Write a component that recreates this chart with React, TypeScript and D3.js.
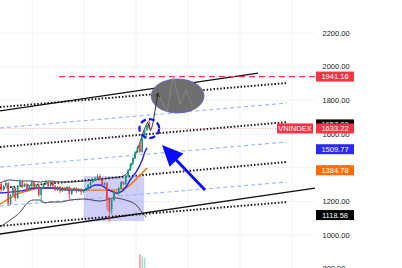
import React from 'react';
import * as d3 from 'd3';

const W = 402;
const H = 268;

// ---- candle data (VNINDEX) ----
const opens = [1303,1267,1291,1309,1184,1238,1279,1220,1291,1321,1291,1303,1267,1291,1315,1279,1297,1238,1279,1303,1315,1291,1315,1291,1267,1285,1261,1279,1267,1285,1244,1267,1279,1261,1273,1255,1267,1279,1297,1315,1327,1339,1350,1327,1297,1309,1220,1149,1208,1255,1244,1279,1315,1303,1350,1386,1422,1457,1493,1547,1493,1576,1624,1665];
const highs = [1315,1297,1321,1315,1244,1291,1285,1297,1333,1327,1309,1309,1297,1327,1321,1303,1303,1285,1309,1327,1321,1321,1321,1297,1291,1291,1285,1285,1291,1291,1273,1285,1285,1279,1279,1273,1285,1303,1321,1333,1345,1362,1362,1333,1315,1315,1226,1214,1261,1261,1285,1321,1321,1356,1392,1428,1463,1499,1529,1553,1582,1630,1665,1683];
const lows = [1255,1261,1285,1172,1178,1232,1202,1214,1285,1279,1285,1255,1261,1285,1267,1273,1226,1190,1273,1297,1285,1285,1279,1261,1261,1249,1255,1261,1261,1208,1238,1261,1249,1255,1238,1249,1261,1273,1291,1309,1321,1333,1321,1291,1291,1149,1077,1125,1202,1238,1238,1273,1297,1297,1345,1380,1416,1451,1487,1487,1487,1570,1618,1630];
const closes = [1267,1291,1309,1184,1238,1279,1220,1291,1321,1291,1303,1267,1291,1315,1279,1297,1238,1279,1303,1315,1291,1315,1291,1267,1285,1261,1279,1267,1285,1244,1267,1279,1261,1273,1255,1267,1279,1297,1315,1327,1339,1350,1327,1297,1309,1208,1137,1208,1255,1244,1279,1315,1303,1350,1386,1422,1457,1493,1523,1493,1576,1624,1653,1636];
const volumes = [2,2,2,3,3,2,3,2,2,2,2,2,2,2,2,2,3,3,2,2,2,2,2,2,2,2,2,2,2,3,2,2,2,2,2,2,2,3,3,3,3,3,3,3,3,4,5,4,3,3,3,3,3,4,4,4,4,5,5,9,8.5,8.2,5,5];

// ---- indicators: [bar index, price] ----
const bbUpper: [number, number][] = [[-0.5,1309],[3.8,1327],[8.1,1321],[12.3,1321],[16.6,1315],[20.9,1321],[25.1,1315],[29.4,1315],[35.3,1321],[40,1327],[46.4,1339],[50.6,1345],[54,1374],[55.7,1428],[57.4,1487],[59.1,1553],[60.8,1624],[62.6,1677]];
const bbLower: [number, number][] = [[-0.5,1048],[3.8,1089],[8.1,1137],[11.1,1190],[13.6,1208],[16.6,1208],[18.7,1190],[20.9,1196],[25.1,1196],[29.4,1208],[35.3,1214],[42.1,1202],[48.5,1220],[52.8,1208],[56.2,1190],[58.3,1166],[60.4,1125],[61.7,1107]];
const maFast: [number, number][] = [[-0.5,1250],[3.8,1255],[10.2,1267],[13.6,1279],[20.9,1279],[29.4,1267],[35.3,1267],[40,1297],[42.1,1297],[45.1,1273],[49.4,1250],[52.8,1279],[54.9,1327],[57.9,1386],[60,1446],[61.3,1499],[62.1,1517]];
const maSlow: [number, number][] = [[-0.5,1184],[3.8,1220],[8.1,1250],[12.3,1267],[16.6,1279],[25.1,1279],[35.3,1267],[42.1,1267],[47.7,1267],[53.6,1285],[57.9,1339],[60.4,1374],[62.1,1398]];

// ---- axes ----
const priceTicks = [800, 1000, 1200, 1400, 1600, 1800, 2000, 2200];
const timeGrid = [13.2, 35.3, 57.4, 79.5, 101.6, 123.7];

// ---- drawings: [bar index, price] ----
const solidLines: [number, number][][] = [
  [[-0.5, 1737], [109.3, 1962]],
  [[-0.5, 1006], [133.5, 1279]],
];
const dottedLines: [number, number][][] = [
  [[-0.5, 1760], [121.6, 1903]],
  [[-0.5, 1523], [121.6, 1671]],
  [[-0.5, 1279], [121.6, 1434]],
  [[-0.5, 1054], [121.6, 1196]],
];
const blueDashedLines: [number, number][][] = [
  [[-0.5, 1636], [121.6, 1784]],
  [[-0.5, 1404], [121.6, 1553]],
  [[-0.5, 1172], [121.6, 1315]],
];
const targetLine: [number, number][] = [[24.6, 1941.16], [133.5, 1941.16]];
const lastPrice = 1633.22;
const lastLine: [number, number][] = [[-0.5, lastPrice], [133.5, lastPrice]];
const projection: [number, number][] = [[62.5, 1665], [63.5, 1618], [64.4, 1653], [66.7, 1844]];
const zigzag: [number, number][] = [[66.7, 1844], [70.6, 1731], [73.1, 1945], [76.1, 1778], [78.6, 1861], [81.2, 1766]];
const targetZoneIdx = [63.8, 86.3];
const targetZonePrice = [1725, 1927];
const circleIdx = [58.8, 67.2];
const circlePrice = [1576, 1689];
const bigArrow: [number, number][] = [[86.7, 1267], [68.4, 1535]];
const boxIdx = [35.2, 60.8];
const boxPrice = [1083, 1350];

// ---- right axis labels ----
const labelValues = [1941.16, 1657.0, 1633.22, 1509.77, 1384.78, 1118.58];
const labelColors = ['#f23645', '#000000', '#f23645', '#2b2bf0', '#ff6d00', '#000000'];
const symbolName = 'VNINDEX';

const FONT = '"Liberation Sans", Arial, sans-serif';

export default function App() {
  const x = d3.scaleLinear().domain([-0.5, 133.5]).range([0, 315]);
  const y = d3.scaleLinear().domain([800, 2200]).range([268.7, 33]);
  const vol = d3.scaleLinear().domain([0, 10]).range([292, 250]);

  const straight = d3.line<[number, number]>().x(d => x(d[0])).y(d => y(d[1]));
  const smooth = d3.line<[number, number]>().x(d => x(d[0])).y(d => y(d[1])).curve(d3.curveMonotoneX);

  const bw = 1.6;
  const up = '#089981';
  const down = '#f23645';

  const ax0 = x(bigArrow[0][0]), ay0 = y(bigArrow[0][1]);
  const ax1 = x(bigArrow[1][0]), ay1 = y(bigArrow[1][1]);
  const len = Math.hypot(ax1 - ax0, ay1 - ay0);
  const ux = (ax1 - ax0) / len, uy = (ay1 - ay0) / len;
  const headLen = 21, headHalf = 9.5;
  const bx = ax1 - ux * headLen, by = ay1 - uy * headLen;
  const head = `M${ax1},${ay1}L${bx - uy * headHalf},${by + ux * headHalf}L${bx + uy * headHalf},${by - ux * headHalf}Z`;

  const p1 = projection[projection.length - 2], p2 = projection[projection.length - 1];
  const sx0 = x(p1[0]), sy0 = y(p1[1]), sx1 = x(p2[0]), sy1 = y(p2[1]);
  const sl = Math.hypot(sx1 - sx0, sy1 - sy0);
  const sux = (sx1 - sx0) / sl, suy = (sy1 - sy0) / sl;
  const sbx = sx1 - sux * 4, sby = sy1 - suy * 4;
  const smallHead = `M${sbx - suy * 2.2},${sby + sux * 2.2}L${sx1},${sy1}L${sbx + suy * 2.2},${sby - sux * 2.2}`;

  const boxX = 316, boxW = 38, boxH = 10;

  return (
    <svg width={W} height={H} style={{ position: 'absolute', left: 0, top: 0, background: '#fff' }} fontFamily={FONT}>
      <rect width={W} height={H} fill="#ffffff" />
      {priceTicks.map(t => (
        <line key={'h' + t} x1={0} x2={315} y1={y(t)} y2={y(t)} stroke="#f0f3fa" strokeWidth={1} />
      ))}
      {timeGrid.map(t => (
        <line key={'v' + t} x1={x(t)} x2={x(t)} y1={0} y2={H} stroke="#f0f3fa" strokeWidth={1} />
      ))}

      {volumes.map((v, i) => (
        <rect key={'vol' + i} x={x(i) - bw / 2} width={bw} y={vol(v)} height={vol(0) - vol(v)}
          fill={closes[i] >= opens[i] ? 'rgba(8,153,129,0.35)' : 'rgba(242,54,69,0.5)'} />
      ))}

      <rect x={x(boxIdx[0])} y={y(boxPrice[1])} width={x(boxIdx[1]) - x(boxIdx[0])} height={y(boxPrice[0]) - y(boxPrice[1])}
        fill="rgba(125,125,240,0.38)" />

      <path d={straight(lastLine) || ''} stroke="rgba(242,54,69,0.45)" strokeWidth={1} strokeDasharray="1 1.5" fill="none" />

      {blueDashedLines.map((l, i) => (
        <path key={'bd' + i} d={straight(l) || ''} stroke="#9db2f7" strokeWidth={1.1} strokeDasharray="4 3" fill="none" />
      ))}
      {dottedLines.map((l, i) => (
        <path key={'dl' + i} d={straight(l) || ''} stroke="#111" strokeWidth={1.9} strokeDasharray="1.5 1.9" fill="none" />
      ))}
      {solidLines.map((l, i) => (
        <path key={'sl' + i} d={straight(l) || ''} stroke="#111" strokeWidth={1.3} fill="none" />
      ))}

      <path d={straight(targetLine) || ''} stroke="#f23645" strokeWidth={1.3} strokeDasharray="6 4" fill="none" />

      <ellipse cx={(x(targetZoneIdx[0]) + x(targetZoneIdx[1])) / 2} cy={(y(targetZonePrice[0]) + y(targetZonePrice[1])) / 2}
        rx={(x(targetZoneIdx[1]) - x(targetZoneIdx[0])) / 2} ry={(y(targetZonePrice[0]) - y(targetZonePrice[1])) / 2}
        fill="#6e6e6e" stroke="#5a5ad8" strokeWidth={0.8} />
      <path d={straight(zigzag) || ''} stroke="#9a9a9a" strokeWidth={0.9} strokeDasharray="1.5 1" fill="none" />

      <path d={smooth(bbUpper) || ''} stroke="#333" strokeWidth={0.9} fill="none" />
      <path d={smooth(bbLower) || ''} stroke="#333" strokeWidth={0.9} fill="none" />
      <path d={smooth(maSlow) || ''} stroke="#ff6d00" strokeWidth={1.4} fill="none" />
      <path d={smooth(maFast) || ''} stroke="#2020ee" strokeWidth={1.4} fill="none" />

      {closes.map((c, i) => {
        const o = opens[i];
        const col = c >= o ? up : down;
        const top = y(Math.max(o, c));
        const bot = y(Math.min(o, c));
        return (
          <g key={'c' + i}>
            <line x1={x(i)} x2={x(i)} y1={y(highs[i])} y2={y(lows[i])} stroke={col} strokeWidth={0.8} />
            <rect x={x(i) - bw / 2} width={bw} y={top} height={Math.max(0.8, bot - top)} fill={col} />
          </g>
        );
      })}

      <path d={straight(projection) || ''} stroke="#222" strokeWidth={0.9} fill="none" />
      <path d={smallHead} stroke="#222" strokeWidth={0.9} fill="none" />

      <ellipse cx={(x(circleIdx[0]) + x(circleIdx[1])) / 2} cy={(y(circlePrice[0]) + y(circlePrice[1])) / 2}
        rx={(x(circleIdx[1]) - x(circleIdx[0])) / 2} ry={(y(circlePrice[0]) - y(circlePrice[1])) / 2}
        fill="none" stroke="#1010f0" strokeWidth={2.2} strokeDasharray="6 3" />

      <line x1={ax0} y1={ay0} x2={bx + ux * 2} y2={by + uy * 2} stroke="#0a0aff" strokeWidth={2.8} />
      <path d={head} fill="#0a0aff" />

      {priceTicks.map(t => (
        <text key={'t' + t} x={322.5} y={y(t)} dy="0.35em" fontSize={7.5} fill="#131722">{t.toFixed(2)}</text>
      ))}

      {labelValues.map((v, i) => (
        <g key={'lb' + i}>
          <rect x={boxX} y={y(v) - boxH / 2} width={boxW} height={boxH} fill={labelColors[i]} />
          <text x={boxX + boxW / 2} y={y(v)} dy="0.35em" textAnchor="middle" fontSize={7.5} fill="#fff">{v.toFixed(2)}</text>
        </g>
      ))}
      <rect x={277} y={y(lastPrice) - boxH / 2} width={36} height={boxH} fill="#f23645" />
      <text x={295} y={y(lastPrice)} dy="0.35em" textAnchor="middle" fontSize={7.5} fill="#fff">{symbolName}</text>
    </svg>
  );
}
